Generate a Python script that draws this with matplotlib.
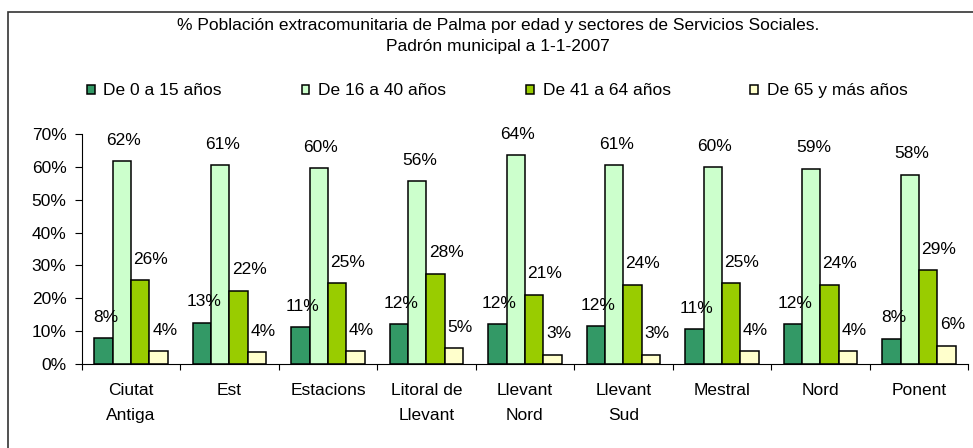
import numpy as np
import matplotlib
matplotlib.use("Agg")
from matplotlib import pyplot as plt
from matplotlib.patches import Rectangle

plt.rcParams['font.family'] = ['Liberation Sans', 'DejaVu Sans']

sectores = ["Ciutat\nAntiga", "Est", "Estacions", "Litoral de\nLlevant", "Llevant\nNord",
            "Llevant\nSud", "Mestral", "Nord", "Ponent"]
grupos = ["De 0 a 15 años", "De 16 a 40 años", "De 41 a 64 años", "De 65 y más años"]
edad_0_15 = [7.8, 12.6, 11.3, 12.1, 12.1, 11.6, 10.7, 12.1, 7.7]
edad_16_40 = [61.8, 60.6, 59.6, 55.6, 63.6, 60.6, 60.0, 59.4, 57.6]
edad_41_64 = [25.6, 22.3, 24.7, 27.5, 21.1, 24.1, 24.6, 24.1, 28.6]
edad_65 = [4.0, 3.6, 4.0, 4.8, 2.8, 2.8, 4.0, 4.0, 5.6]
colores = ["#339966", "#CCFFCC", "#99CC00", "#FFFFCC"]

series = [edad_0_15, edad_16_40, edad_41_64, edad_65]
fs = 12.5

fig = plt.figure(figsize=(9.73, 4.48), dpi=100)
ax = fig.add_axes([0.084, 0.1875, 0.911, 0.5134])

x = np.arange(len(sectores))
w = 0.186
label_dx = [1.5, 1.5, 7.5, 4.5]  # points
for i, vals in enumerate(series):
    bars = ax.bar(x + (i - 1.5) * w, vals, w, color=colores[i], edgecolor="black",
                  linewidth=1.1, label=grupos[i])
    for b, v in zip(bars, vals):
        ax.annotate(f"{v:.0f}%", (b.get_x() + b.get_width() / 2, v),
                    xytext=(label_dx[i], 15), textcoords="offset points",
                    ha="center", va="center", fontsize=fs)

ax.set_xlim(-0.5, len(sectores) - 0.5)
ax.set_ylim(0, 70)
ax.set_yticks(np.arange(0, 71, 10))
ax.set_yticklabels([f"{t}%" for t in range(0, 71, 10)], fontsize=fs)
ax.set_xticks(x)
ax.set_xticklabels(sectores, fontsize=fs, linespacing=1.8)
ax.set_xticks(np.arange(-0.5, len(sectores)), minor=True)
ax.tick_params(axis="x", which="major", length=0, pad=14)
ax.tick_params(axis="x", which="minor", length=4, width=0.8, direction="out")
ax.tick_params(axis="y", length=5, width=0.8, pad=6)
for s in ["top", "right"]:
    ax.spines[s].set_visible(False)
for s in ["left", "bottom"]:
    ax.spines[s].set_linewidth(0.8)

fig.text(0.512, 0.92, "% Población extracomunitaria de Palma por edad y sectores de Servicios Sociales.\nPadrón municipal a 1-1-2007",
         ha="center", va="center", fontsize=fs, linespacing=1.55)

fig.legend(loc="center", bbox_to_anchor=(0.511, 0.797), ncol=4, frameon=False,
           fontsize=fs, handlelength=0.45, handleheight=0.45, handletextpad=0.5,
           columnspacing=4.6, borderaxespad=0)

fig.patches.append(Rectangle((7.5 / 973, -0.05), 1.0, 1.05 - 12 / 448, transform=fig.transFigure,
                             fill=False, edgecolor="#333333", linewidth=1.2))

plt.savefig("out.png", dpi=100)
plt.close()
